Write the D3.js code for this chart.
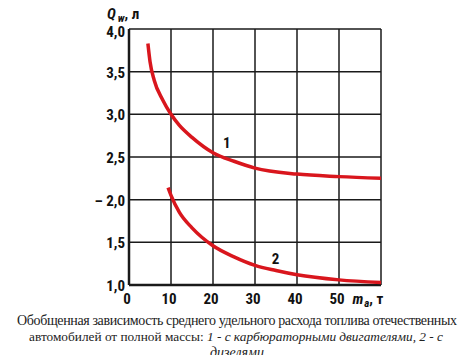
<!DOCTYPE html>
<html>
<head>
<meta charset="utf-8">
<script src="https://cdn.jsdelivr.net/npm/d3@7"></script>
<style>
  body { margin: 0; background: #fff; }
  svg { display: block; }
</style>
</head>
<body>
<div id="chart"></div>
<script>
// mass of vehicle, t
const xTicks = [0, 10, 20, 30, 40, 50, 60];
const yTicks = [1.0, 1.5, 2.0, 2.5, 3.0, 3.5, 4.0];

// curve 1 - carburettor engines
const mass1 = [4.5, 5, 6, 8, 10, 12, 15, 20, 25, 30, 40, 50, 60];
const fuel1 = [3.83, 3.62, 3.40, 3.17, 3.0, 2.87, 2.73, 2.55, 2.45, 2.37, 2.30, 2.27, 2.25];

// curve 2 - diesels
const mass2 = [9.3, 10, 12, 15, 20, 25, 30, 35, 40, 50, 60];
const fuel2 = [2.14, 2.05, 1.85, 1.67, 1.46, 1.33, 1.23, 1.17, 1.12, 1.06, 1.03];

const caption = [
  'Обобщенная зависимость среднего удельного расхода топлива отечественных',
  'автомобилей от полной массы: ',
  '1 - с карбюраторными двигателями, 2 - с',
  'дизелями'
];

const lblFont = "'Roboto Condensed', 'Liberation Sans', sans-serif";
const capFont = "'Liberation Serif'";

let width = 474, height = 355;
let margin = {top: 29, right: 93, bottom: 70, left: 129};
let w = width - margin.left - margin.right;
let h = height - margin.top - margin.bottom;

let svg = d3.select('#chart').append('svg')
    .attr('width', width)
    .attr('height', height);

let g = svg.append('g')
    .attr('transform', 'translate(' + margin.left + ',' + margin.top + ')');

let x = d3.scaleLinear().domain([0, 60]).range([0, w]);
let y = d3.scaleLinear().domain([1, 4]).range([h, 0]);

function lbl(sel) {
  return sel.style('font-family', lblFont)
      .style('font-weight', 'bold')
      .style('font-size', '15px')
      .attr('fill', '#111');
}

// grid
g.append('g').selectAll('line')
    .data(xTicks)
    .enter().append('line')
    .attr('x1', d => x(d)).attr('x2', d => x(d))
    .attr('y1', 0).attr('y2', h)
    .attr('stroke', '#1a1a1a')
    .attr('stroke-width', d => d === 0 ? 2.5 : 1.5);

g.append('g').selectAll('line')
    .data(yTicks)
    .enter().append('line')
    .attr('x1', 0).attr('x2', w)
    .attr('y1', d => y(d)).attr('y2', d => y(d))
    .attr('stroke', '#1a1a1a')
    .attr('stroke-width', d => d === 1 ? 2.5 : 1.5);

// y labels (top one sits just under the frame)
g.append('g').selectAll('text')
    .data(yTicks)
    .enter().append('text')
    .call(lbl)
    .attr('x', -4)
    .attr('y', d => y(d) + (d === 4 ? 8 : 6))
    .attr('text-anchor', 'end')
    .text(d => (d === 2 ? '–  ' : '') + d3.format('.1f')(d).replace('.', ','));

// x labels
g.append('g').selectAll('text')
    .data(xTicks.slice(0, 6))
    .enter().append('text')
    .call(lbl)
    .attr('x', d => x(d) - 2)
    .attr('y', h + 19)
    .attr('text-anchor', 'middle')
    .text(d => d);

// axis titles
let xt = g.append('text')
    .call(lbl)
    .attr('x', x(53.2))
    .attr('y', h + 19)
    .attr('xml:space', 'preserve')
    .style('font-style', 'italic');
xt.append('tspan').text('m');
xt.append('tspan').attr('dx', 1).attr('dy', 3).style('font-size', '11px').text('a');
xt.append('tspan').attr('dy', -3).style('font-style', 'normal').text(', т');

let yt = svg.append('text')
    .call(lbl)
    .attr('x', 107)
    .attr('y', 19)
    .attr('xml:space', 'preserve')
    .style('font-style', 'italic');
yt.append('tspan').text('Q');
yt.append('tspan').attr('dx', 2).attr('dy', 3).style('font-size', '11px').text('w');
yt.append('tspan').attr('dy', -3).style('font-style', 'normal').text(', л');

// curves
let line = d3.line()
    .x(d => x(d[0]))
    .y(d => y(d[1]))
    .curve(d3.curveMonotoneX);

g.append('path')
    .datum(d3.zip(mass1, fuel1))
    .attr('fill', 'none')
    .attr('stroke', '#d9161d')
    .attr('stroke-width', 3.5)
    .attr('d', line);

g.append('path')
    .datum(d3.zip(mass2, fuel2))
    .attr('fill', 'none')
    .attr('stroke', '#d9161d')
    .attr('stroke-width', 3.5)
    .attr('d', line);

g.append('text').call(lbl)
    .attr('x', x(22.4)).attr('y', y(2.6))
    .text('1');
g.append('text').call(lbl)
    .attr('x', x(34)).attr('y', y(1.25))
    .text('2');

// caption
function cap(sel) {
  return sel.style('font-family', capFont)
      .style('font-size', '14px')
      .attr('fill', '#222')
      .attr('text-anchor', 'middle');
}

svg.append('text').call(cap)
    .attr('x', 237).attr('y', 325)
    .attr('textLength', 440)
    .text(caption[0]);

let c2 = svg.append('text').call(cap)
    .attr('x', 236).attr('y', 341)
    .style('font-size', '13.3px')
    .attr('xml:space', 'preserve');
c2.append('tspan').text(caption[1]);
c2.append('tspan').style('font-style', 'italic').text(caption[2]);

svg.append('text').call(cap)
    .attr('x', 237).attr('y', 357)
    .style('font-style', 'italic')
    .text(caption[3]);
</script>
</body>
</html>
